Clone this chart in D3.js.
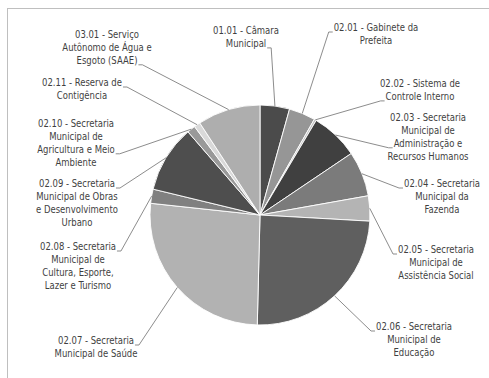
<!DOCTYPE html>
<html>
<head>
<meta charset="utf-8">
<script src="https://cdn.jsdelivr.net/npm/d3@7"></script>
<style>
  html, body { margin: 0; padding: 0; background: #fff; }
  svg { display: block; }
  text { font-family: "Liberation Sans Narrow", "Arial Narrow", "DejaVu Sans Condensed", sans-serif; font-size: 11px; fill: #3f3f3f; }
</style>
</head>
<body>
<svg id="chart" width="489" height="378"></svg>
<script>
// Budget share per unit (%), clockwise from 12 o'clock
const categories = [
  "01.01 - Câmara Municipal",
  "02.01 - Gabinete da Prefeita",
  "02.02 - Sistema de Controle Interno",
  "02.03 - Secretaria Municipal de Administração e Recursos Humanos",
  "02.04 - Secretaria Municipal da Fazenda",
  "02.05 - Secretaria Municipal de Assistência Social",
  "02.06 - Secretaria Municipal de Educação",
  "02.07 - Secretaria Municipal de Saúde",
  "02.08 - Secretaria Municipal de Cultura, Esporte, Lazer e Turismo",
  "02.09 - Secretaria Municipal de Obras e Desenvolvimento Urbano",
  "02.10 - Secretaria Municipal de Agricultura e Meio Ambiente",
  "02.11 - Reserva de Contigência",
  "03.01 - Serviço Autônomo de Água e Esgoto (SAAE)"
];
const values = [4.33, 3.89, 0.31, 7.03, 6.64, 3.69, 24.5, 26.3, 2.08, 9.86, 1.22, 0.92, 9.22];

// Label text broken into lines
const labelLines = [
  ["01.01 - Câmara", "Municipal"],
  ["02.01 - Gabinete da", "Prefeita"],
  ["02.02 - Sistema de", "Controle Interno"],
  ["02.03 - Secretaria", "Municipal de", "Administração e", "Recursos Humanos"],
  ["02.04 - Secretaria", "Municipal da", "Fazenda"],
  ["02.05 - Secretaria", "Municipal de", "Assistência Social"],
  ["02.06 - Secretaria", "Municipal de", "Educação"],
  ["02.07 - Secretaria", "Municipal de Saúde"],
  ["02.08 - Secretaria", "Municipal de", "Cultura, Esporte,", "Lazer e Turismo"],
  ["02.09 - Secretaria", "Municipal de Obras", "e Desenvolvimento", "Urbano"],
  ["02.10 - Secretaria", "Municipal de", "Agricultura e Meio", "Ambiente"],
  ["02.11 - Reserva de", "Contigência"],
  ["03.01 - Serviço", "Autônomo de Água e", "Esgoto (SAAE)"]
];

// Slice fills
const colors = ["#4b4b4b", "#969696", "#c4c4c4", "#404040", "#7b7b7b", "#b4b4b4",
                "#5f5f5f", "#b2b2b2", "#808080", "#4e4e4e", "#999999", "#d9d9d9", "#aeaeae"];

// Label placement: text centre x, first line centre y, side the leader leaves from, line it leaves from
const labelLayout = [
  { cx: 246, y0: 30,  side: "right", at: 1 },
  { cx: 376, y0: 27,  side: "left",  at: 0 },
  { cx: 420, y0: 83,  side: "left",  at: 1 },
  { cx: 428, y0: 117, side: "left",  at: 2 },
  { cx: 442, y0: 183, side: "left",  at: 0 },
  { cx: 436, y0: 249, side: "left",  at: 0 },
  { cx: 414, y0: 326, side: "left",  at: 0 },
  { cx: 96,  y0: 340, side: "right", at: 0 },
  { cx: 78,  y0: 246, side: "right", at: 0 },
  { cx: 77,  y0: 183, side: "right", at: 0 },
  { cx: 76,  y0: 123, side: "right", at: 2 },
  { cx: 82,  y0: 82,  side: "right", at: 0 },
  { cx: 107, y0: 34,  side: "right", at: 2 }
];

const svg = d3.select("#chart");
const cx = 260, cy = 215, R = 110;
const lineH = 12.9;

// horizontal squeeze so a "02.03 - Secretaria" line runs about 76px wide
const probe = svg.append("text").text("02.03 - Secretaria");
const probeW = probe.node().getComputedTextLength();
probe.remove();
const sx = Math.max(0.7, Math.min(1.1, 76 / probeW));

// chart area border (runs off the right and bottom edges)
svg.append("rect")
  .attr("x", 7.5).attr("y", 8.5)
  .attr("width", 600).attr("height", 500)
  .attr("fill", "none").attr("stroke", "#bfbfbf").attr("stroke-width", 1);

const data = categories.map((c, i) => ({ name: c, value: values[i], i }));
const pie = d3.pie().value(d => d.value).sort(null);
const arcs = pie(data);
const arc = d3.arc().innerRadius(0).outerRadius(R);

const g = svg.append("g").attr("transform", `translate(${cx},${cy})`);
g.selectAll("path.slice")
  .data(arcs)
  .join("path")
  .attr("class", "slice")
  .attr("d", arc)
  .attr("fill", d => colors[d.data.i])
  .attr("stroke", "#ffffff")
  .attr("stroke-width", 0.9)
  .attr("stroke-linejoin", "round");

// labels and leader lines
const labels = svg.append("g");
arcs.forEach((a, k) => {
  const lay = labelLayout[k];
  const lines = labelLines[k];
  const t = labels.append("text")
    .attr("text-anchor", "middle")
    .attr("transform", `translate(${lay.cx},0) scale(${sx},1)`);
  const tspans = lines.map((ln, j) =>
    t.append("tspan").attr("x", 0).attr("y", lay.y0 + j * lineH + 4).text(ln)
  );
  const w = tspans[lay.at].node().getComputedTextLength() * sx;
  const ly = lay.y0 + lay.at * lineH + 5;
  let x0, x1;
  if (lay.side === "right") { x0 = lay.cx + w / 2 + 1; x1 = x0 + 4; }
  else { x0 = lay.cx - w / 2 - 1; x1 = x0 - 4; }
  const mid = (a.startAngle + a.endAngle) / 2;
  const px = cx + R * Math.sin(mid), py = cy - R * Math.cos(mid);
  svg.append("path")
    .attr("d", d3.line()([[x0, ly], [x1, ly], [px, py]]))
    .attr("fill", "none")
    .attr("stroke", "#7f7f7f")
    .attr("stroke-width", 0.9);
});
</script>
</body>
</html>
